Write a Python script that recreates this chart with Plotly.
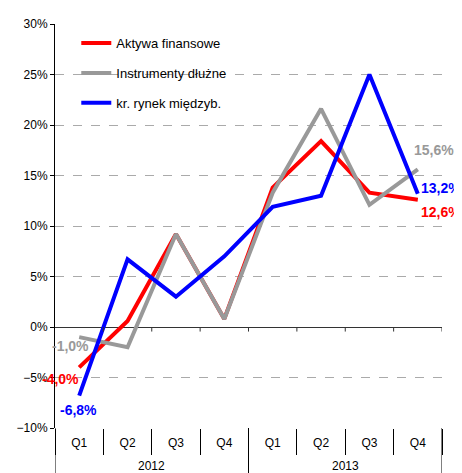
import plotly.graph_objects as go

years = ["2012", "2013"]
quarters = ["Q1", "Q2", "Q3", "Q4", "Q1", "Q2", "Q3", "Q4"]
periods = [f"{q} {y}" for y in years for q in ["Q1", "Q2", "Q3", "Q4"]]

aktywa = [-4.0, 0.6, 9.2, 0.8, 13.8, 18.4, 13.3, 12.6]
instrumenty = [-1.0, -2.0, 9.2, 0.8, 13.3, 21.6, 12.1, 15.6]
rynek = [-6.8, 6.7, 3.0, 7.0, 11.9, 13.0, 25.0, 13.2]

names = ["Aktywa finansowe", "Instrumenty dłużne", "kr. rynek międzyb."]
colors = ["#ff0000", "#999999", "#0000ff"]
series = [aktywa, instrumenty, rynek]

FONT = "Liberation Sans, Arial, sans-serif"

fig = go.Figure()
for name, col, vals in zip(names, colors, series):
    fig.add_trace(go.Scatter(
        x=periods, y=vals, name=name, mode="lines",
        line=dict(color=col, width=4), legendgroup=name,
    ))

def pl(v):
    return f"{v:.1f}%".replace(".", ",")

# etykiety pierwszego i ostatniego punktu (xshift, yshift)
first_shift = [(-19, -12), (-9, -9), (-1, -14)]
last_shift = [(23, -12), (16, 19), (23, 6)]
for col, vals, fs, ls in zip(colors, series, first_shift, last_shift):
    fig.add_annotation(x=periods[0], y=vals[0], text=f"<b>{pl(vals[0])}</b>", showarrow=False,
                       xshift=fs[0], yshift=fs[1], font=dict(color=col, size=14, family=FONT))
    fig.add_annotation(x=periods[-1], y=vals[-1], text=f"<b>{pl(vals[-1])}</b>", showarrow=False,
                       xshift=ls[0], yshift=ls[1], font=dict(color=col, size=14, family=FONT))

# lata pod kwartałami
for i, y in enumerate(years):
    fig.add_annotation(x=i * 4 + 1.5, xref="x", y=0, yref="paper", yshift=-38, yanchor="middle",
                       text=y, showarrow=False, font=dict(size=12, family=FONT))

# linie podziału lat i kreski na osi zero
for b in [-0.5, 3.5, 7.5]:
    fig.add_shape(type="line", xref="x", yref="paper", x0=b, x1=b, y0=0, y1=-0.13,
                  line=dict(color="black", width=1))
for b in range(8):
    fig.add_shape(type="line", xref="x", yref="y", x0=b + 0.5, x1=b + 0.5, y0=0, y1=-0.45,
                  line=dict(color="#333333", width=1))

fig.update_layout(
    width=462, height=473,
    margin=dict(l=47, r=28, t=16, b=53, autoexpand=False),
    paper_bgcolor="white", plot_bgcolor="white",
    font=dict(family=FONT, size=12, color="black"),
    showlegend=True,
    legend=dict(x=0.055, y=0.99, xanchor="left", yanchor="top",
                bgcolor="rgba(0,0,0,0)", font=dict(size=13), tracegroupgap=10,
                itemwidth=30),
)
fig.update_yaxes(
    range=[-10, 30], dtick=5, ticksuffix="%",
    showgrid=True, gridcolor="#aaaaaa", griddash="dash", gridwidth=1,
    zeroline=True, zerolinecolor="#333333", zerolinewidth=1,
    showline=True, linecolor="black", linewidth=1,
    ticks="outside", ticklen=4, tickcolor="black",
    tickfont=dict(size=12),
)
fig.update_xaxes(
    type="category", range=[-0.5, 7.5],
    tickvals=periods, ticktext=quarters, tickson="boundaries",
    showgrid=False, showline=False,
    ticks="outside", ticklen=26, tickcolor="black", ticklabelstandoff=6,
    tickfont=dict(size=12),
)

fig.write_html("out.html")
